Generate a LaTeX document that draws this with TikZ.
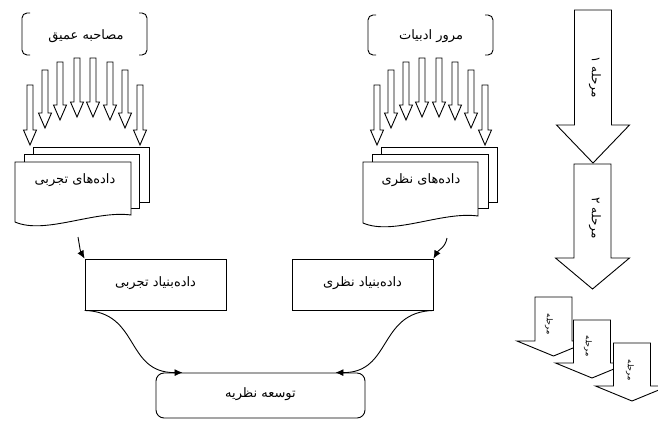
\documentclass[tikz,border=0pt]{standalone}
\usepackage{fontspec}
\newfontfamily\ar[Script=Arabic]{DejaVu Sans}
\TeXXeTstate=1
\usetikzlibrary{arrows.meta,calc}
\tikzset{
  ln/.style={line width=0.9pt},
  fa/.style={font=\ar\fontsize{13}{15}\selectfont, inner sep=0pt},
  fastage/.style={font=\ar\fontsize{12}{14}\selectfont, inner sep=0pt, rotate=-90},
  fasmall/.style={font=\ar\fontsize{8}{9}\selectfont, inner sep=0pt, rotate=-90},
  dbbox/.style={draw, ln, fill=white, minimum width=141pt, minimum height=51pt, inner sep=0pt},
  devbox/.style={draw, ln, fill=white, rounded corners=8pt, minimum width=209pt, minimum height=45pt, inner sep=0pt},
  conn/.style={ln, -{Latex[length=8pt,width=7pt]}},
  blk/.style={draw, ln, fill=white, line join=miter},
  bracket/.style={ln, rounded corners=5pt},
  docshape/.style={draw, ln, fill=white},
}
% cx, top, tip, shaft half width, head half width, head length
\newcommand{\blkarrow}[6]{%
  \draw[blk] ({#1-#4},#2) -- ({#1+#4},#2) -- ({#1+#4},{#3-#6}) -- ({#1+#5},{#3-#6}) -- (#1,#3) -- ({#1-#5},{#3-#6}) -- ({#1-#4},{#3-#6}) -- cycle;}
\begin{document}
\begin{tikzpicture}[x=1pt,y=-1pt]
\useasboundingbox (0,0) rectangle (658,421);
\clip (0,0) rectangle (658,421);

% ---- left source bracket
\draw[bracket] (30,13) -- (22,13) -- (22,55) -- (30,55);
\draw[bracket] (139,13) -- (147,13) -- (147,55) -- (139,55);
\node[fa] (src1) at (86,36) {\beginR مصاحبه عمیق\endR};

% ---- right source bracket
\draw[bracket] (376,15) -- (368,15) -- (368,55) -- (376,55);
\draw[bracket] (485,15) -- (493,15) -- (493,55) -- (485,55);
\node[fa] (src2) at (431,36) {\beginR مرور ادبیات\endR};

% ---- left block arrows
\foreach \cx/\tp/\tip in {30/85/145,45/70/128,60/62/120,77/58/117,93/58/117,110/62/120,125/70/128,140/85/145}
  {\blkarrow{\cx}{\tp}{\tip}{3}{6.5}{15}}
% ---- right block arrows
\foreach \cx/\tp/\tip in {377/85/145,391/70/128,406/62/120,422/58/117,439/58/117,455/62/120,471/70/128,485/85/145}
  {\blkarrow{\cx}{\tp}{\tip}{3}{6.5}{15}}

% ---- left document stack
\draw[docshape] (33,147) rectangle (149,202);
\draw[docshape] (24,154) rectangle (139,208);
\draw[docshape] (15,162) -- (131,162) -- (131,215) .. controls (95,210) and (45,235) .. (15,222) -- cycle;
\node[fa] (doc1) at (75,180) {\beginR داده‌های تجربی\endR};

% ---- right document stack
\draw[docshape] (381,147) rectangle (497,202);
\draw[docshape] (372,154) rectangle (488,208);
\draw[docshape] (363,162) -- (478,162) -- (478,216) .. controls (442,211) and (393,236) .. (363,223) -- cycle;
\node[fa] (doc2) at (421,180) {\beginR داده‌های نظری\endR};

% ---- databases
\node[dbbox] (db1) at (155.5,284.5) {};
\node[fa] (db1t) at (155.5,283) {\beginR داده‌بنیاد تجربی\endR};
\node[dbbox] (db2) at (362.5,284.5) {};
\node[fa] (db2t) at (362.5,283) {\beginR داده‌بنیاد نظری\endR};

% ---- theory development
\node[devbox] (dev) at (260.5,395.5) {};
\node[fa] (devt) at (260.5,394) {\beginR توسعه نظریه\endR};

% ---- connectors
\coordinate (d1out) at (78,237);
\coordinate (d2out) at (447,238);
\draw[conn] (d1out) to[out=-80,in=120] (db1.north west);
\draw[conn] (d2out) to[out=-100,in=60] (db2.north east);
\coordinate (devL) at ($(dev.north west)+(27,0)$);
\coordinate (devR) at ($(dev.north east)+(-30,0)$);
\draw[conn] (db1.south west) .. controls (140,312) and (125,373) .. (devL);
\draw[conn] (db2.south east) .. controls (378,312) and (392,373) .. (devR);

% ---- stage arrows
\blkarrow{593}{10}{163}{18.5}{36.5}{38}
\node[fastage] (st1) at (595,77) {\beginR مرحله ۱\endR};
\blkarrow{592.5}{164}{289}{18.5}{37}{31}
\node[fastage] (st2) at (595,218) {\beginR مرحله ۲\endR};

\blkarrow{553.5}{297}{356}{18.5}{36.5}{15}
\node[fasmall] (st3) at (549,324) {\beginR مرحله\endR};
\blkarrow{592}{320}{378}{18.5}{36.5}{15}
\node[fasmall] (st4) at (588,346) {\beginR مرحله\endR};
\blkarrow{632}{343}{401}{18.5}{36.5}{15}
\node[fasmall] (st5) at (630,370) {\beginR مرحله\endR};
\end{tikzpicture}
\end{document}
